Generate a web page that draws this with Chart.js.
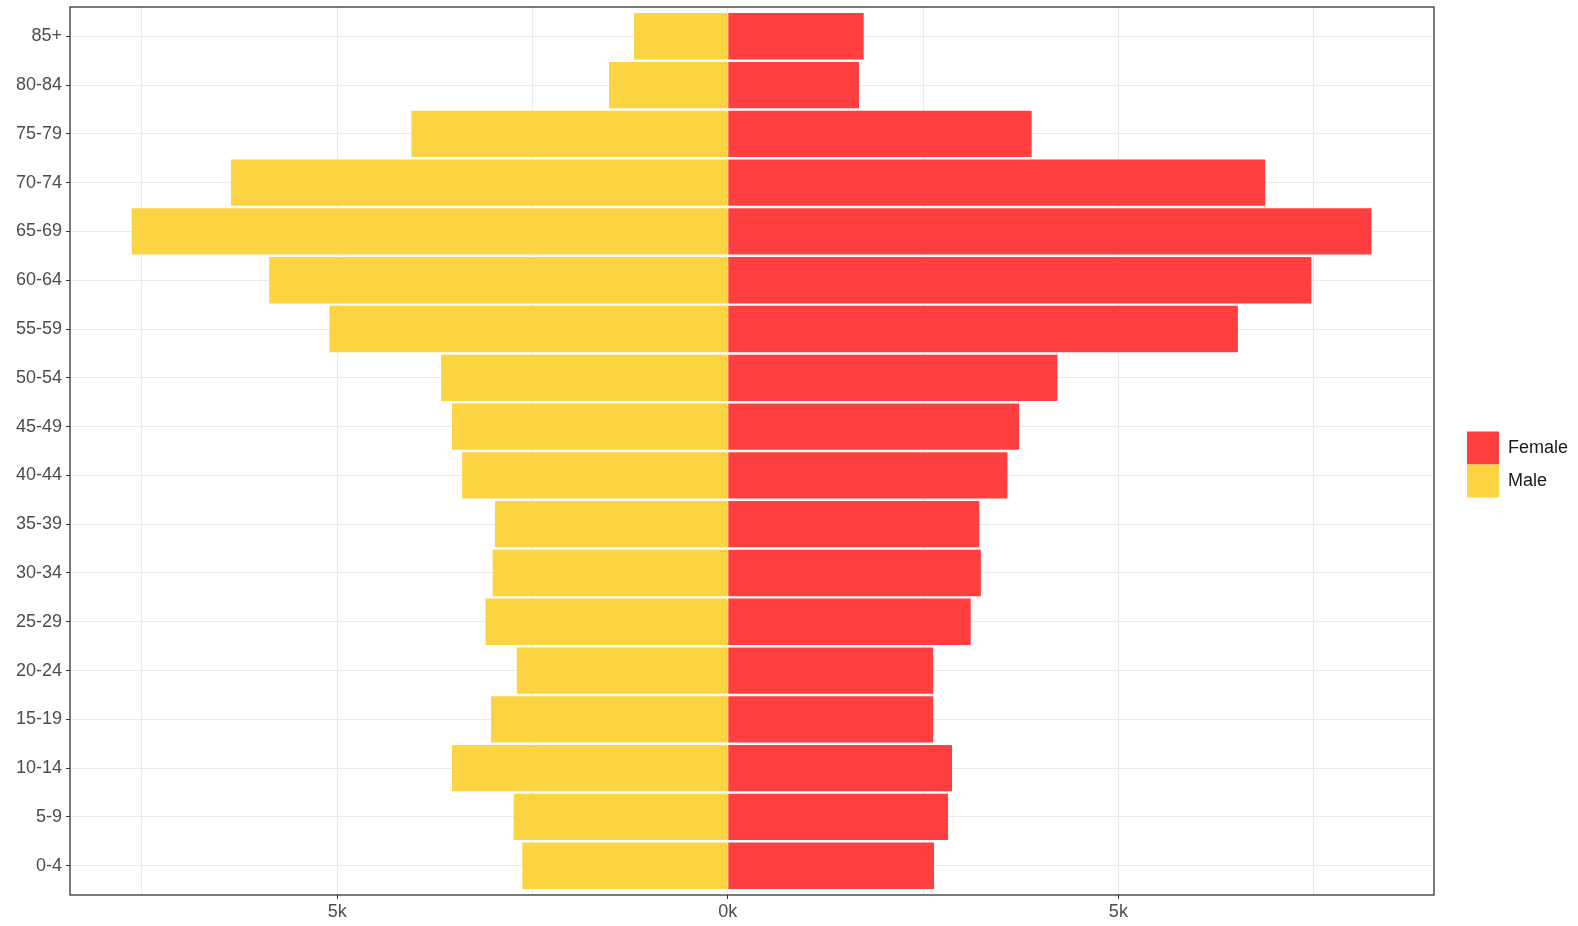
<!DOCTYPE html>
<html>
<head>
<meta charset="utf-8">
<script src="https://cdn.jsdelivr.net/npm/chart.js@4.4.1/dist/chart.umd.min.js"></script>
<style>
  html, body { margin: 0; padding: 0; background: #fff; }
  #wrap { width: 1578px; height: 926px; }
</style>
</head>
<body>
<div id="wrap"><canvas id="pyramid" width="1578" height="926"></canvas></div>
<script>
// Age groups, bottom to top
const ageGroups = ['0-4', '5-9', '10-14', '15-19', '20-24', '25-29', '30-34', '35-39',
  '40-44', '45-49', '50-54', '55-59', '60-64', '65-69', '70-74', '75-79', '80-84', '85+'];

// Counts (male drawn to the left)
const femaleCounts = [2640, 2820, 2870, 2630, 2630, 3110, 3240, 3220,
  3580, 3730, 4220, 6530, 7470, 8240, 6880, 3890, 1680, 1740];
const maleCounts = [2630, 2740, 3530, 3030, 2700, 3100, 3010, 2980,
  3400, 3530, 3670, 5100, 5870, 7630, 6360, 4050, 1520, 1200];

// x axis ticks (minor ones unlabelled)
const xTickValues = [-7500, -5000, -2500, 0, 2500, 5000, 7500];
const xTickLabels = ['', '5k', '', '0k', '', '5k', ''];

const FONT = "'Liberation Sans', Arial, sans-serif";

// panel border like ggplot's theme_bw
const panelBorder = {
  id: 'panelBorder',
  afterDatasetsDraw(chart) {
    const a = chart.chartArea;
    const ctx = chart.ctx;
    ctx.save();
    ctx.strokeStyle = '#333333';
    ctx.lineWidth = 1.3;
    ctx.strokeRect(a.left, a.top, a.right - a.left, a.bottom - a.top);
    ctx.restore();
  }
};

function init() {
  const ctx = document.getElementById('pyramid').getContext('2d');

  new Chart(ctx, {
    type: 'bar',
    data: {
      datasets: [
        {
          label: 'Female',
          data: femaleCounts.map((v, i) => ({ x: v, y: i + 1 })),
          backgroundColor: '#ff3f3f',
          borderWidth: 0
        },
        {
          label: 'Male',
          data: maleCounts.map((v, i) => ({ x: -v, y: i + 1 })),
          backgroundColor: '#fcd442',
          borderWidth: 0
        }
      ]
    },
    options: {
      indexAxis: 'y',
      responsive: false,
      animation: false,
      categoryPercentage: 1,
      barPercentage: 0.95,
      layout: { padding: { top: 7, bottom: 4, left: 0, right: 0 } },
      plugins: {
        legend: {
          position: 'right',
          labels: {
            boxWidth: 32,
            boxHeight: 33,
            padding: 0,
            color: '#1a1a1a',
            font: { family: FONT, size: 18 }
          }
        },
        tooltip: { enabled: false }
      },
      scales: {
        x: {
          type: 'linear',
          stacked: true,
          min: -8420,
          max: 9040,
          afterBuildTicks: s => { s.ticks = xTickValues.map(v => ({ value: v })); },
          afterFit: s => { s.height = 27; },
          border: { display: false },
          grid: {
            color: '#ebebeb',
            lineWidth: 1,
            tickLength: 4,
            tickColor: c => (xTickLabels[c.index] ? '#333333' : 'rgba(0,0,0,0)')
          },
          ticks: {
            autoSkip: false,
            maxRotation: 0,
            padding: 2,
            color: '#4d4d4d',
            font: { family: FONT, size: 18 },
            callback: (v, i) => xTickLabels[i]
          }
        },
        y: {
          type: 'linear',
          stacked: true,
          offset: false,
          min: 0.4,
          max: ageGroups.length + 0.6,
          afterBuildTicks: s => { s.ticks = ageGroups.map((g, i) => ({ value: i + 1 })); },
          afterFit: s => { s.width = 70; s.paddingTop = 0; s.paddingBottom = 0; },
          border: { display: false },
          grid: {
            offset: false,
            color: '#ebebeb',
            lineWidth: 1,
            tickLength: 4,
            tickColor: '#333333'
          },
          ticks: {
            autoSkip: false,
            padding: 4,
            color: '#4d4d4d',
            font: { family: FONT, size: 18 },
            callback: v => ageGroups[v - 1]
          }
        },
        // spacer between the panel and the legend
        gap: {
          type: 'linear',
          position: 'right',
          display: true,
          afterFit: s => { s.width = 33; },
          border: { display: false },
          grid: { display: false },
          ticks: { display: false }
        }
      }
    },
    plugins: [panelBorder]
  });
}

init();
</script>
</body>
</html>
